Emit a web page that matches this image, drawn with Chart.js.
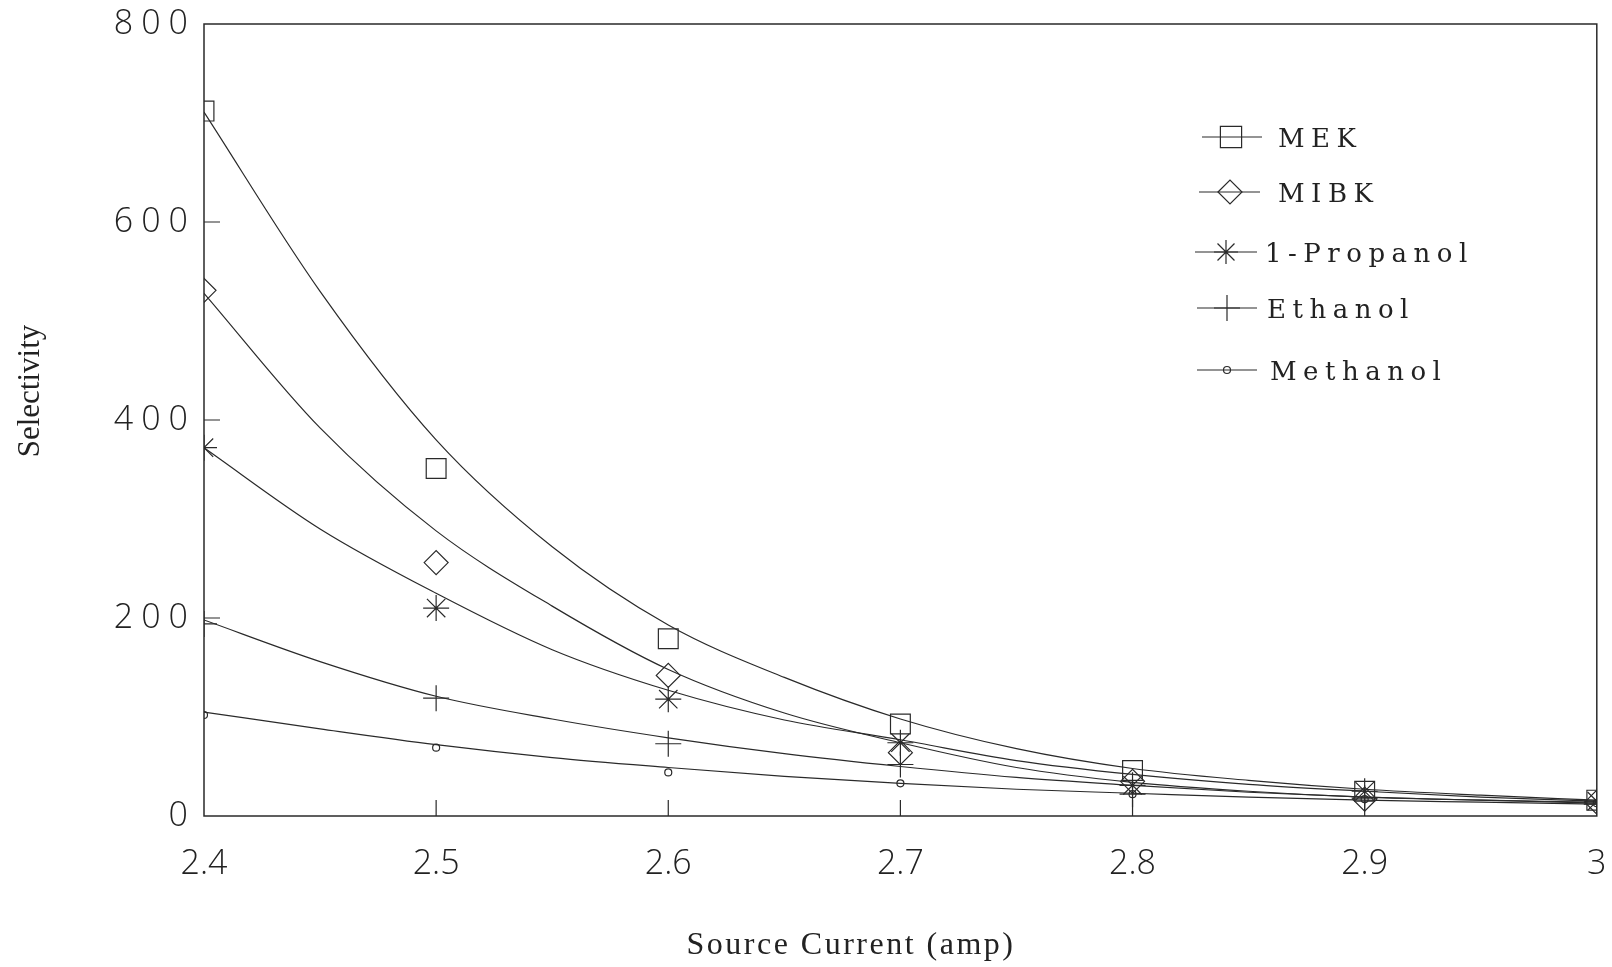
<!DOCTYPE html>
<html>
<head>
<meta charset="utf-8">
<script src="https://cdn.jsdelivr.net/npm/chart.js@4.4.1/dist/chart.umd.min.js"></script>
<style>
  html, body { margin: 0; padding: 0; background: #fff; }
  canvas { display: block; }
</style>
</head>
<body>
<canvas id="js-chart" width="1612" height="967"></canvas>
<script>
// measured points (markers)
const pointX = [2.4, 2.5, 2.6, 2.7, 2.8, 2.9, 3.0];
const mek = [712, 351, 179, 93, 46, 25, 16];
const mibk = [531, 256, 142, 64, 35, 17, 14];
const propanol = [372, 210, 118, 74, 31, 25, 15];
const ethanol = [194, 119, 73, 52, 22, 18, 12];
const methanol = [102, 69, 44, 33, 22, 17, 13];

// fitted curves, every 0.05 amp
const curveX = [2.4, 2.45, 2.5, 2.55, 2.6, 2.65, 2.7, 2.75, 2.8, 2.85, 2.9, 2.95, 3.0];
const mekFit = [711, 530, 380, 272, 193, 140, 98, 68, 48, 36, 27, 21, 16];
const mibkFit = [528, 392, 288, 212, 148, 104, 74, 49, 34, 25, 19, 16, 14];
const propanolFit = [372, 290, 225, 168, 127, 97, 77, 56, 42, 32, 25, 19, 15];
const ethanolFit = [198, 156, 121, 98, 79, 63, 50, 39, 31, 24, 19, 16, 13];
const methanolFit = [105, 88, 72, 59, 49, 40, 33, 27, 23, 19, 16, 14, 12];

const seriesNames = ['MEK', 'MIBK', '1-Propanol', 'Ethanol', 'Methanol'];
const yTicks = [0, 200, 400, 600, 800];

const INK = '#2a2a2a';
const series = [
  { name: seriesNames[0], pts: mek, fit: mekFit, style: 'rect', r: 14, lr: 15 },
  { name: seriesNames[1], pts: mibk, fit: mibkFit, style: 'rectRot', r: 12, lr: 12 },
  { name: seriesNames[2], pts: propanol, fit: propanolFit, style: 'star', r: 13, lr: 12 },
  { name: seriesNames[3], pts: ethanol, fit: ethanolFit, style: 'cross', r: 13, lr: 13 },
  { name: seriesNames[4], pts: methanol, fit: methanolFit, style: 'circle', r: 3.5, lr: 3.5 },
];

// linear scale whose tick labels can be letter-spaced
class SpacedLinearScale extends Chart.LinearScale {
  drawLabels(chartArea) {
    const ctx = this.ctx;
    ctx.save();
    ctx.letterSpacing = this.axis === 'y' ? '8px' : '0px';
    super.drawLabels(chartArea);
    ctx.restore();
  }
}
SpacedLinearScale.id = 'spacedLinear';
SpacedLinearScale.defaults = Chart.LinearScale.defaults;
Chart.register(SpacedLinearScale);

function toXY(xs, ys) {
  return xs.map((x, i) => ({ x: x, y: ys[i] }));
}

const datasets = [];
series.forEach(s => {
  // smooth curve
  datasets.push({
    label: s.name + ' fit',
    data: toXY(curveX, s.fit),
    borderColor: INK,
    borderWidth: 1.2,
    pointRadius: 0,
    cubicInterpolationMode: 'monotone',
    fill: false,
  });
  // markers only
  datasets.push({
    label: s.name,
    data: toXY(pointX, s.pts),
    showLine: false,
    pointStyle: s.style,
    pointRadius: s.r,
    pointBorderColor: INK,
    pointBorderWidth: 1.2,
    pointBackgroundColor: 'rgba(0,0,0,0)',
  });
});

// frame, inner ticks, titles, legend
const framePlugin = {
  id: 'frame',
  afterDraw(chart) {
    const ctx = chart.ctx;
    const a = chart.chartArea;
    const xs = chart.scales.x;
    const ys = chart.scales.y;
    ctx.save();
    ctx.strokeStyle = INK;
    ctx.lineWidth = 1.5;
    ctx.strokeRect(a.left, a.top, a.right - a.left, a.bottom - a.top);

    // inner tick marks
    ctx.lineWidth = 1.2;
    ctx.beginPath();
    xs.ticks.forEach(t => {
      if (t.value <= xs.min + 1e-9 || t.value >= xs.max - 1e-9) return;
      const px = xs.getPixelForValue(t.value);
      ctx.moveTo(px, a.bottom);
      ctx.lineTo(px, a.bottom - 16);
    });
    ys.ticks.forEach(t => {
      if (t.value <= ys.min || t.value >= ys.max) return;
      const py = ys.getPixelForValue(t.value);
      ctx.moveTo(a.left, py);
      ctx.lineTo(a.left + 16, py);
    });
    ctx.stroke();

    // axis titles
    ctx.fillStyle = '#222';
    ctx.font = '31px "Liberation Serif", "Times New Roman", serif';
    ctx.textAlign = 'center';
    ctx.textBaseline = 'middle';
    ctx.save();
    ctx.translate(31, 391);
    ctx.rotate(-Math.PI / 2);
    ctx.fillText('Selectivity', 0, 0);
    ctx.restore();
    ctx.font = '32px "Liberation Serif", "Times New Roman", serif';
    ctx.letterSpacing = '2.5px';
    ctx.fillText('Source Current (amp)', 851, 946);

    // legend
    const rows = [137, 192, 252, 308, 370];
    const lineFrom = [1202, 1199, 1195, 1197, 1197];
    const lineTo = [1262, 1260, 1257, 1257, 1257];
    const markX = [1231, 1230, 1226, 1227, 1227];
    const textX = [1278, 1278, 1265, 1267, 1270];
    series.forEach((s, i) => {
      const y = rows[i];
      ctx.letterSpacing = '0px';
      ctx.strokeStyle = INK;
      ctx.lineWidth = 1.2;
      ctx.beginPath();
      ctx.moveTo(lineFrom[i], y);
      ctx.lineTo(lineTo[i], y);
      ctx.stroke();
      ctx.fillStyle = 'rgba(0,0,0,0)';
      Chart.helpers.drawPoint(ctx, {
        pointStyle: s.style,
        radius: s.lr,
        rotation: 0,
        borderWidth: 1.2,
      }, markX[i], y);
      ctx.fillStyle = '#222';
      ctx.font = '26px "DejaVu Serif", serif';
      ctx.letterSpacing = '6.5px';
      ctx.textAlign = 'left';
      ctx.fillText(s.name, textX[i], y + 3);
    });
    ctx.restore();
  },
};

const tickFont = { family: '"Open Sans", "DejaVu Sans", sans-serif', size: 34, weight: 300 };

const chart = new Chart(document.querySelector('#js-chart').getContext('2d'), {
  type: 'line',
  data: { datasets: datasets },
  options: {
    responsive: false,
    animation: false,
    layout: { padding: 0 },
    plugins: {
      legend: { display: false },
      tooltip: { enabled: false },
    },
    scales: {
      x: {
        type: 'spacedLinear',
        min: 2.4,
        max: 3,
        grid: { display: false },
        border: { display: false },
        ticks: {
          stepSize: 0.1,
          padding: 20,
          color: '#222',
          font: tickFont,
          maxRotation: 0,
          callback: v => String(+v.toFixed(1)),
        },
        afterFit: s => {
          s.height = 151;
          s.paddingLeft = 0;
          s.paddingRight = 13;
        },
      },
      y: {
        type: 'spacedLinear',
        min: 0,
        max: 800,
        grid: { display: false },
        border: { display: false },
        afterBuildTicks: s => { s.ticks = yTicks.map(v => ({ value: v })); },
        ticks: {
          padding: 0,
          color: '#222',
          font: tickFont,
        },
        afterFit: s => {
          s.width = 204;
          s.paddingTop = 24;
          s.paddingBottom = 0;
        },
      },
    },
  },
  plugins: [framePlugin],
});
</script>
</body>
</html>
